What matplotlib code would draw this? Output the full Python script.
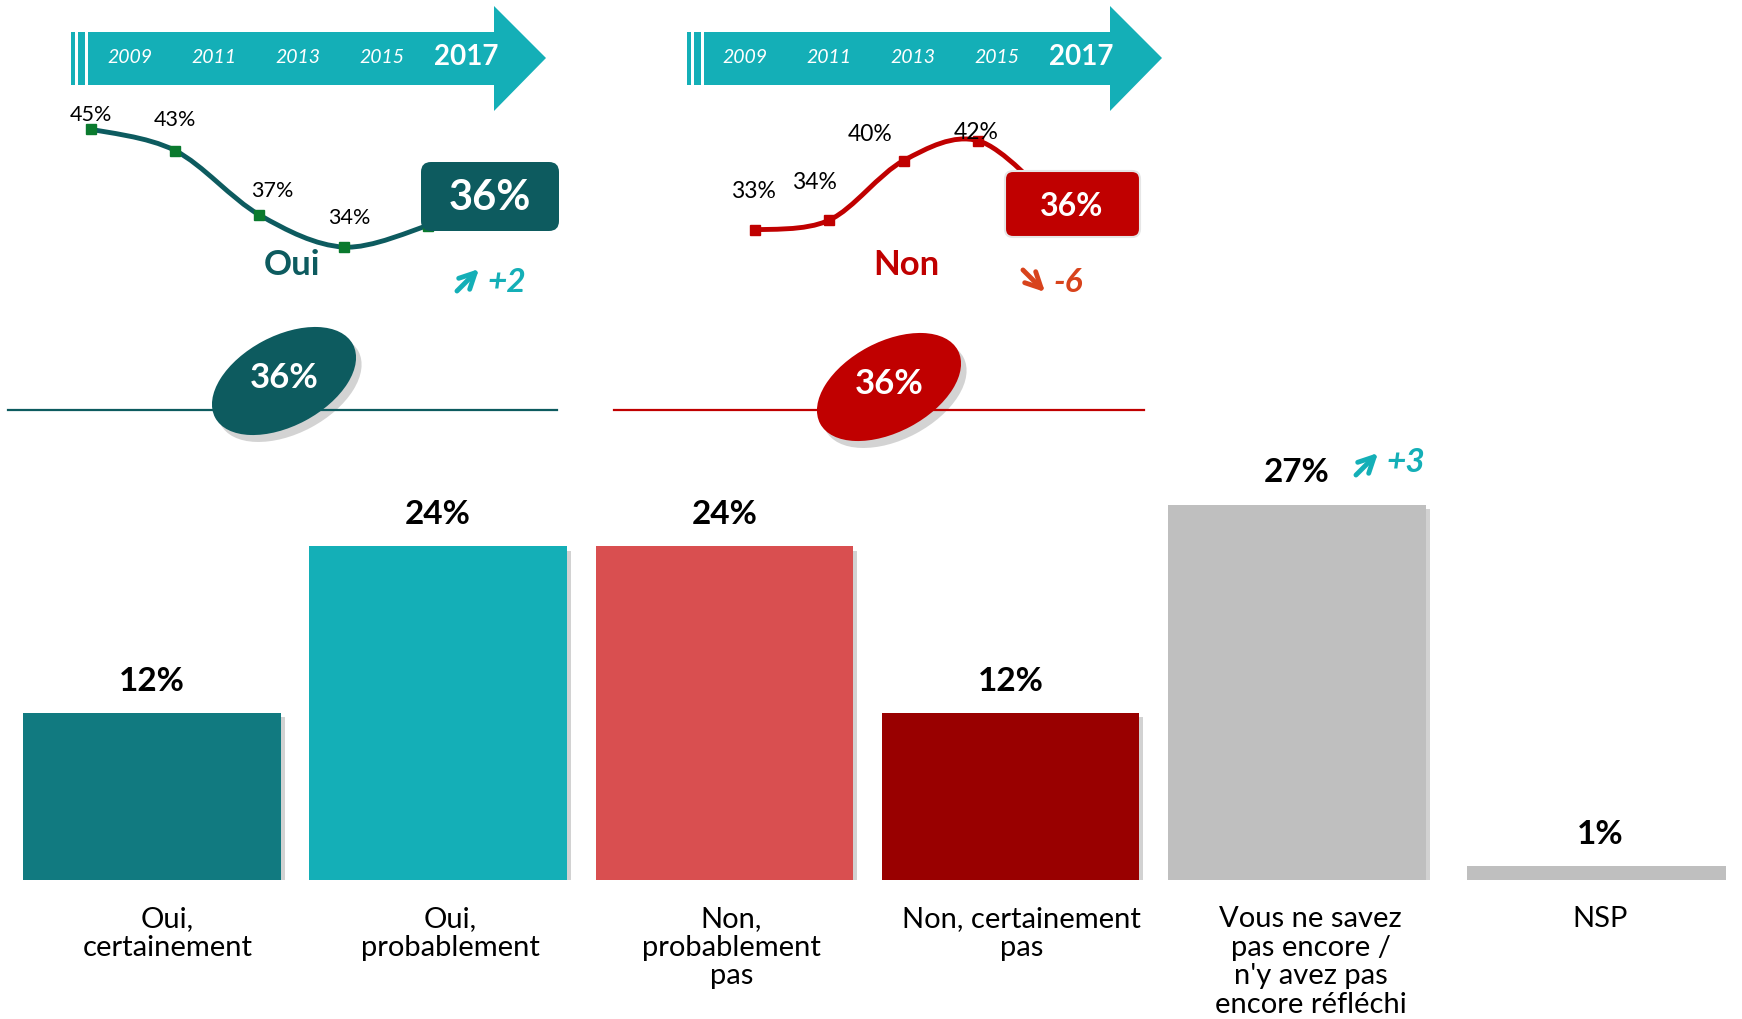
import numpy as np
import matplotlib.pyplot as plt
import matplotlib.patheffects as pe
from matplotlib.patches import Polygon, Rectangle, FancyBboxPatch, Ellipse, PathPatch
from matplotlib.path import Path

plt.rcParams['font.family'] = ['Lato', 'DejaVu Sans']

# data
years = [2009, 2011, 2013, 2015, 2017]
oui_trend = [45, 43, 37, 34, 36]
non_trend = [33, 34, 40, 42, 36]

categories = ['Oui,\ncertainement', 'Oui,\nprobablement', 'Non,\nprobablement\npas',
              'Non, certainement\npas', "Vous ne savez\npas encore /\nn'y avez pas\nencore réfléchi", 'NSP']
values = [12, 24, 24, 12, 27, 1]
unsure_delta = 3

bar_colors = ['#117A80', '#14AFB7', '#D94F50', '#990000', '#BFBFBF', '#BFBFBF']
teal = '#14AFB7'
oui_dark = '#0D5B5F'
non_red = '#C00000'
down_col = '#D8431C'

W, H = 1742, 1019
fig = plt.figure(figsize=(W / 100, H / 100), dpi=100)


def px_axes(left, top, right, bottom, **kw):
    return fig.add_axes([left / W, 1 - bottom / H, (right - left) / W, (bottom - top) / H], **kw)


def smooth_path(xs, ys):
    pts = np.column_stack([xs, ys]).astype(float)
    ext = np.vstack([pts[0], pts, pts[-1]])
    verts = [pts[0]]
    codes = [Path.MOVETO]
    for i in range(len(pts) - 1):
        p0, p1, p2, p3 = ext[i], ext[i + 1], ext[i + 2], ext[i + 3]
        verts += [p1 + (p2 - p0) / 6, p2 - (p3 - p1) / 6, p2]
        codes += [Path.CURVE4] * 3
    return Path(verts, codes)


# bar chart
ax = px_axes(8.9, 880 - 30 * 13.9, 1726, 880)
xpos = np.arange(len(values), dtype=float)
xpos[-1] += 0.06
widths = [0.9] * (len(values) - 1) + [0.93]
label_dx = [11, 9, 5, 8, 10, 0]
shadow = [pe.withSimplePatchShadow(offset=(3, -3), shadow_rgbFace='#808080', alpha=0.35)]
ax.bar(xpos, values, width=widths, color=bar_colors, path_effects=shadow)
ax.set_xlim(-0.5, len(values) - 0.5)
ax.set_ylim(0, 30)
ax.axis('off')
for x, v in zip(xpos, values):
    ax.annotate(f'{v}%', (x, v), xytext=(0, 23), textcoords='offset points',
                ha='center', va='center', fontsize=24, fontweight='bold')
for x, c, dx in zip(xpos, categories, label_dx):
    ax.annotate(c, (x, 0), xytext=(dx, -19), textcoords='offset points',
                ha='center', va='top', fontsize=21, linespacing=1.12)
ax.annotate('', xy=(1380, 1019 - 451), xytext=(1354, 1019 - 477), xycoords='figure pixels',
            arrowprops=dict(arrowstyle='->', color=teal, lw=3.5, mutation_scale=28))
fig.text(1406 / W, 1 - 463 / H, f'+{unsure_delta}', color=teal, fontsize=24,
         fontweight='bold', fontstyle='italic', ha='center', va='center')

# trend lines
ax_oui = px_axes(48.5, 75.4, 48.5 + 421.7, 290)
ax_non = px_axes(717.8, 61.3, 717.8 + 371.7, 259.8)
oui_offsets = [(0, 10), (0, 22), (9, 17), (4, 21), (0, 0)]
non_offsets = [(-1, 28), (-11, 27), (-24, 19), (-1, 6), (0, 0)]
for a, vals, col, mcol, offs, fs in [(ax_oui, oui_trend, oui_dark, '#0A7A2E', oui_offsets, 15.5),
                                     (ax_non, non_trend, non_red, non_red, non_offsets, 16.5)]:
    a.set_xlim(2008, 2018)
    a.set_ylim(30, 50)
    a.axis('off')
    a.add_patch(PathPatch(smooth_path(years, vals), fill=False, edgecolor=col, lw=3.5))
    a.plot(years, vals, 's', ms=7, color=mcol)
    for y, v, o in zip(years[:-1], vals[:-1], offs):
        a.annotate(f'{v}%', (y, v), xytext=o, textcoords='offset points',
                   ha='center', va='center', fontsize=fs)

# decorations on top
deco = fig.add_axes([0, 0, 1, 1], zorder=5)
deco.set_xlim(0, W)
deco.set_ylim(H, 0)
deco.axis('off')
deco.patch.set_alpha(0)


def banner(x0, label_x0):
    body = x0 + 17
    deco.add_patch(Rectangle((x0, 32), 4, 53, color=teal, lw=0))
    deco.add_patch(Rectangle((x0 + 6.5, 32), 7, 53, color=teal, lw=0))
    deco.add_patch(Polygon([(body, 32), (body + 406, 32), (body + 406, 6), (body + 458, 58),
                            (body + 406, 111), (body + 406, 85), (body, 85)], color=teal, lw=0))
    for i, y in enumerate(years):
        last = i == len(years) - 1
        deco.text(label_x0 + 84 * i, 57, str(y), color='white', ha='center', va='center',
                  fontsize=20 if last else 14, fontweight='bold' if last else 'normal',
                  fontstyle='normal' if last else 'italic')


banner(71, 130)
banner(687, 745)

# 2017 boxes
deco.add_patch(FancyBboxPatch((421, 162), 138, 69, boxstyle='round,pad=0,rounding_size=10',
                              color=oui_dark, lw=0))
deco.text(490, 198, f'{oui_trend[-1]}%', color='white', fontsize=30, fontweight='bold',
          ha='center', va='center')
deco.add_patch(FancyBboxPatch((1005, 171), 135, 66, boxstyle='round,pad=0,rounding_size=8',
                              facecolor=non_red, edgecolor='#E6E6E6', lw=1.5))
deco.text(1072, 206, f'{non_trend[-1]}%', color='white', fontsize=23, fontweight='bold',
          ha='center', va='center')

deco.text(292, 265, 'Oui', color=oui_dark, fontsize=25, fontweight='bold', ha='center', va='center')
deco.text(906, 265, 'Non', color=non_red, fontsize=25, fontweight='bold', ha='center', va='center')

d_oui = oui_trend[-1] - oui_trend[-2]
d_non = non_trend[-1] - non_trend[-2]
deco.annotate('', xy=(481, 267), xytext=(455, 293),
              arrowprops=dict(arrowstyle='->', color=teal, lw=3.5, mutation_scale=28))
deco.text(507, 282, f'{d_oui:+d}', color=teal, fontsize=24, fontweight='bold',
          fontstyle='italic', ha='center', va='center')
deco.annotate('', xy=(1047, 294), xytext=(1021, 268),
              arrowprops=dict(arrowstyle='->', color=down_col, lw=3.5, mutation_scale=28))
deco.text(1068, 282, f'{d_non:+d}', color=down_col, fontsize=24, fontweight='bold',
          fontstyle='italic', ha='center', va='center')

# total ellipses
deco.plot([8, 557], [410, 410], color=oui_dark, lw=1.6)
deco.plot([614, 1144], [410, 410], color=non_red, lw=1.6)
eshadow = [pe.withSimplePatchShadow(offset=(4, -5), shadow_rgbFace='#707070', alpha=0.3)]
for cx, cy, col, tot in [(284, 381, oui_dark, sum(values[:2])), (889, 387, non_red, sum(values[2:4]))]:
    deco.add_patch(Ellipse((cx, cy), 156, 90, angle=-28, color=col, lw=0, path_effects=eshadow))
    deco.text(cx, cy - 3, f'{tot}%', color='white', fontsize=25, fontweight='bold',
              ha='center', va='center')

fig.savefig('out.png', dpi=100)
